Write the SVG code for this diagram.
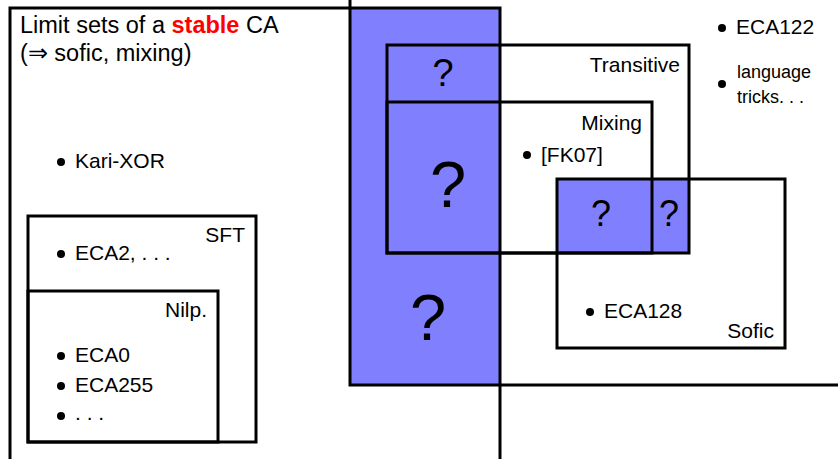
<svg xmlns="http://www.w3.org/2000/svg" width="838" height="459" viewBox="0 0 838 459">
<style>
.box{fill:none;stroke:#000;stroke-width:3}
.blue{fill:#8080ff}
.t{font-family:"Liberation Sans",Arial,sans-serif;font-size:21px;fill:#000}
.q{font-family:"Liberation Sans",Arial,sans-serif;fill:#000;text-anchor:middle}
.r{text-anchor:end}
circle{fill:#000}
</style>
<rect width="838" height="459" fill="#fff"/>
<g id="blue-fills">
<rect class="blue" x="350" y="8" width="150" height="377"/>
<rect class="blue" x="387" y="45" width="113" height="208"/>
<rect class="blue" x="557" y="179" width="133" height="74"/>
</g>
<g id="stable">
<path class="box" d="M10,470 V8 H500 V470"/>
<text class="t" x="20" y="33" style="font-size:23.5px">Limit sets of a <tspan fill="#ff0000" font-weight="bold">stable</tspan> CA</text>
<text class="t" x="20" y="61" style="font-size:23.5px">(⇒ sofic, mixing)</text>
</g>
<g id="nonsofic-boundary">
<path class="box" d="M350,-5 V385 H845"/>
</g>
<g id="kari">
<circle cx="61" cy="162" r="4"/>
<text class="t" x="75" y="168">Kari-XOR</text>
</g>
<g id="sft">
<rect class="box" x="28" y="216" width="228" height="226"/>
<text class="t r" x="245" y="242">SFT</text>
<circle cx="61" cy="254" r="4"/>
<text class="t" x="75" y="260">ECA2, . . .</text>
</g>
<g id="nilp">
<rect class="box" x="28" y="291" width="190" height="151"/>
<text class="t r" x="207" y="317">Nilp.</text>
<circle cx="61" cy="356" r="4"/>
<text class="t" x="75" y="362">ECA0</text>
<circle cx="61" cy="386" r="4"/>
<text class="t" x="75" y="392">ECA255</text>
<circle cx="61" cy="416" r="4"/>
<text class="t" x="75" y="420">. . .</text>
</g>
<g id="transitive">
<rect class="box" x="387" y="45" width="302" height="208"/>
<text class="t r" x="680" y="72">Transitive</text>
</g>
<g id="mixing">
<rect class="box" x="387" y="102" width="265" height="151"/>
<text class="t r" x="642" y="130">Mixing</text>
<circle cx="527" cy="155" r="4"/>
<text class="t" x="541" y="162">[FK07]</text>
</g>
<g id="sofic">
<rect class="box" x="557" y="179" width="228" height="169"/>
<text class="t r" x="774" y="338">Sofic</text>
<circle cx="590" cy="312" r="4"/>
<text class="t" x="604" y="318">ECA128</text>
</g>
<g id="question-marks">
<text class="q" x="443" y="86" font-size="38">?</text>
<text class="q" x="448" y="207" font-size="65">?</text>
<text class="q" x="428" y="340" font-size="65">?</text>
<text class="q" x="601" y="226" font-size="36">?</text>
<text class="q" x="669" y="226" font-size="36">?</text>
</g>
<g id="outside">
<circle cx="722" cy="28" r="4"/>
<text class="t" x="736" y="34">ECA122</text>
<circle cx="722" cy="84" r="4"/>
<text class="t" x="737" y="78" style="font-size:18px">language</text>
<text class="t" x="737" y="103" style="font-size:18px">tricks. . .</text>
</g>
</svg>
